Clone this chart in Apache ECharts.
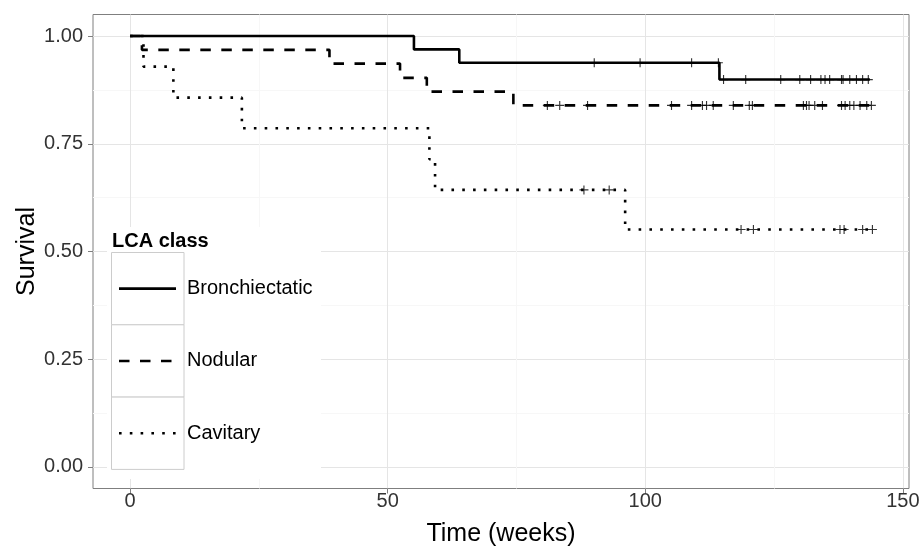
<!DOCTYPE html>
<html>
<head>
<meta charset="utf-8">
<script src="https://cdn.jsdelivr.net/npm/echarts@6/dist/echarts.min.js"></script>
<style>
  html, body { margin: 0; padding: 0; background: #fff; }
  #chart { width: 922px; height: 547px; }
</style>
</head>
<body>
<div id="chart"></div>
<script>
// Kaplan-Meier steps (time in weeks, survival)
const brTime = [0, 55.1, 63.9, 114.4, 143.6];
const brSurv = [1, 0.969, 0.938, 0.899, 0.899];
const brCensor = [90.1, 99.0, 109.0, 114.2, 115.2, 119.5, 126.3, 130.0, 132.1, 134.1,
  134.9, 135.8, 138.1, 138.4, 139.7, 141.0, 142.2, 143.3];

const nodTime = [0, 2.3, 38.7, 52.4, 57.6, 74.4, 143.9];
const nodSurv = [1, 0.968, 0.936, 0.903, 0.871, 0.839, 0.839];
const nodCensor = [81.0, 83.4, 88.8, 105.1, 109.0, 111.1, 111.9, 113.2, 117.1, 120.2,
  120.8, 130.7, 131.3, 131.8, 132.9, 134.4, 138.1, 138.8, 139.7, 140.5, 141.7, 143.0, 143.9];

const cavTime = [0, 2.6, 8.4, 21.7, 58.1, 59.2, 96.1, 144.1];
const cavSurv = [1, 0.929, 0.857, 0.786, 0.714, 0.643, 0.551, 0.551];
const cavCensor = [88.1, 93.0, 118.6, 121.0, 137.8, 138.6, 142.2, 144.1];

const classes = ["Bronchiectatic", "Nodular", "Cavitary"];
const xTicks = [0, 50, 100, 150];
const xMinor = [25, 75, 125];
const yTicks = [0, 0.25, 0.5, 0.75, 1];
const yMinor = [0.125, 0.375, 0.625, 0.875];

const FONT = "Liberation Sans";
const PLUS = "path://M7,0 H9 V7 H16 V9 H9 V16 H7 V9 H0 V7 H7 Z";
const LINE_W = 2.6;
const DASHES = ["solid", [10.5, 10.5], [2.6, 8.2]];

function pairs(t, s) {
  return t.map((v, i) => [v, s[i]]);
}

// survival of a step curve at time x (censor marks sit on the curve)
function stepAt(t, s, x) {
  let v = s[0];
  for (let i = 0; i < t.length; i++) {
    if (t[i] <= x) v = s[i];
  }
  return v;
}

function curve(name, t, s, type) {
  return {
    name: name,
    type: "line",
    step: "end",
    symbol: "none",
    data: pairs(t, s),
    lineStyle: { color: "#000", width: LINE_W, type: type, cap: "butt" },
    itemStyle: { color: "#000" },
    z: 3,
    animation: false
  };
}

function marks(name, t, s, c) {
  return {
    name: name + " censored",
    type: "scatter",
    symbol: PLUS,
    symbolSize: 9,
    data: c.map(x => [x, stepAt(t, s, x)]),
    itemStyle: { color: "#000" },
    z: 4,
    animation: false
  };
}

// ggplot style legend box: white background, one bordered key per class
const keyX = 111.5, keyY = 252.5, keyW = 72.5, keyH = 72.3;
const legendGraphics = [
  { type: "rect", z: 1, silent: true, shape: { x: 107, y: 227, width: 214, height: 252 },
    style: { fill: "#fff" } }
];
classes.forEach((name, i) => {
  const cy = keyY + keyH * i + keyH / 2;
  legendGraphics.push(
    { type: "rect", z: 1, silent: true,
      shape: { x: keyX, y: keyY + keyH * i, width: keyW, height: keyH },
      style: { fill: "#fff", stroke: "#cccccc", lineWidth: 1 } },
    { type: "line", z: 2, silent: true,
      shape: { x1: 119, y1: cy, x2: 176, y2: cy },
      style: { stroke: "#000", lineWidth: LINE_W, lineDash: DASHES[i] === "solid" ? null : DASHES[i], lineCap: "butt" } },
    { type: "text", z: 2, silent: true,
      style: { x: 187, y: cy, text: name, fontFamily: FONT, fontSize: 20, fill: "#000", verticalAlign: "middle" } }
  );
});
legendGraphics.push({
  type: "text", z: 2, silent: true,
  style: { x: 112, y: 241, text: "LCA class", fontFamily: FONT, fontSize: 20, fontWeight: "bold", fill: "#000", verticalAlign: "middle" }
});

const chart = echarts.init(document.getElementById("chart"));

const option = {
  backgroundColor: "#fff",
  animation: false,
  textStyle: { fontFamily: FONT },
  grid: {
    left: 93, right: 13, top: 14.5, bottom: 58.5,
    outerBoundsMode: "none",
    containLabel: false,
    show: true, borderColor: "#7f7f7f", borderWidth: 1, backgroundColor: "#fff"
  },
  graphic: legendGraphics,
  xAxis: [
    {
      type: "value",
      min: -7.2, max: 151.2,
      name: "Time (weeks)",
      nameLocation: "middle",
      nameGap: 33,
      nameMoveOverlap: false,
      nameTextStyle: { fontFamily: FONT, fontSize: 25, color: "#000" },
      axisLine: { show: false, onZero: false },
      axisTick: { show: true, length: 5, customValues: xTicks, lineStyle: { color: "#7f7f7f" } },
      axisLabel: { customValues: xTicks, margin: 3, fontFamily: FONT, fontSize: 20, color: "#333" },
      splitLine: { show: true, lineStyle: { color: "#e5e5e5", width: 1 } }
    },
    {
      type: "value",
      min: -7.2, max: 151.2,
      axisLine: { show: false, onZero: false },
      axisTick: { show: false, customValues: xMinor },
      axisLabel: { show: false, customValues: xMinor },
      splitLine: { show: true, lineStyle: { color: "#f7f7f7", width: 1 } }
    }
  ],
  yAxis: [
    {
      type: "value",
      min: -0.05, max: 1.05,
      name: "Survival",
      nameLocation: "middle",
      nameGap: 53,
      nameMoveOverlap: false,
      nameTextStyle: { fontFamily: FONT, fontSize: 25, color: "#000" },
      axisLine: { show: false, onZero: false },
      axisTick: { show: true, length: 5, customValues: yTicks, lineStyle: { color: "#7f7f7f" } },
      axisLabel: {
        customValues: yTicks, margin: 10, fontFamily: FONT, fontSize: 20, color: "#333",
        formatter: v => v.toFixed(2)
      },
      splitLine: { show: true, lineStyle: { color: "#e5e5e5", width: 1 } }
    },
    {
      type: "value",
      min: -0.05, max: 1.05,
      axisLine: { show: false, onZero: false },
      axisTick: { show: false, customValues: yMinor },
      axisLabel: { show: false, customValues: yMinor },
      splitLine: { show: true, lineStyle: { color: "#f7f7f7", width: 1 } }
    }
  ],
  series: [
    curve(classes[0], brTime, brSurv, DASHES[0]),
    curve(classes[1], nodTime, nodSurv, DASHES[1]),
    curve(classes[2], cavTime, cavSurv, DASHES[2]),
    marks(classes[0], brTime, brSurv, brCensor),
    marks(classes[1], nodTime, nodSurv, nodCensor),
    marks(classes[2], cavTime, cavSurv, cavCensor)
  ]
};

chart.setOption(option);
</script>
</body>
</html>
